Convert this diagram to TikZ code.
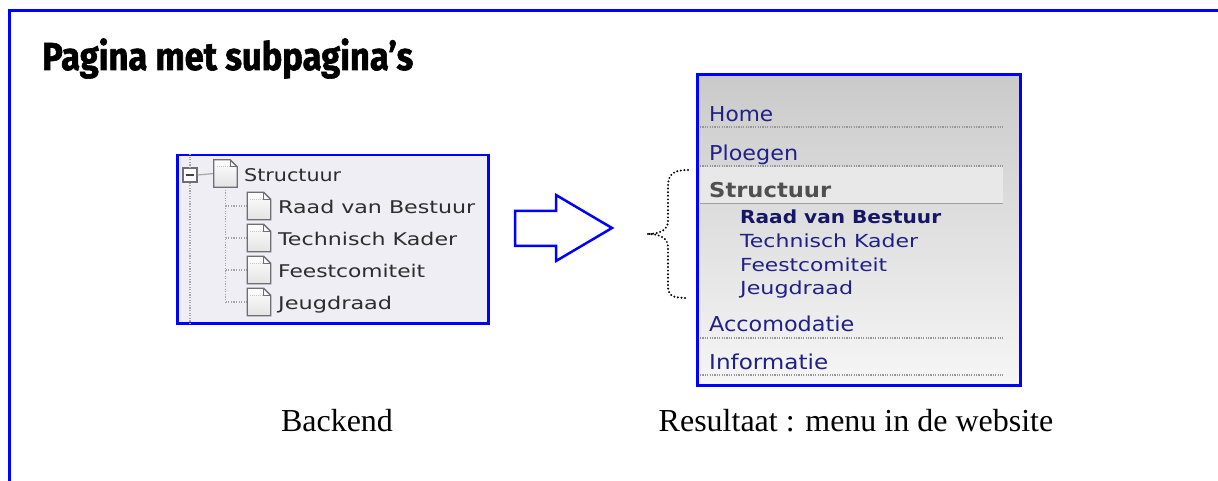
\documentclass[tikz,border=0pt]{standalone}
\usepackage{fontspec}
\usepackage{graphicx}
\setmainfont{Liberation Serif}
\newfontfamily\verd{DejaVu Sans}
\newfontfamily\titlef{Fira Sans}[BoldFeatures={FakeBold=1.6}]
\definecolor{frameblue}{RGB}{0,0,255}
\definecolor{treebg}{RGB}{238,238,244}
\definecolor{treefg}{RGB}{45,45,45}
\definecolor{treeline}{RGB}{165,165,170}
\definecolor{iconborder}{RGB}{110,110,115}
\definecolor{menutop}{RGB}{202,202,202}
\definecolor{menubot}{RGB}{246,246,246}
\definecolor{bandcol}{RGB}{232,232,232}
\definecolor{menublue}{RGB}{32,32,135}
\definecolor{menunavy}{RGB}{22,22,100}
\definecolor{menugray}{RGB}{80,80,80}
\definecolor{sepcol}{RGB}{150,150,150}
\tikzset{
  treetext/.style={anchor=base west, inner sep=0pt, text=treefg,
    font=\verd\fontsize{17.5bp}{20bp}\selectfont},
  menutext/.style={anchor=base west, inner sep=0pt, text=menublue,
    font=\verd\fontsize{20.5bp}{24bp}\selectfont},
  subtext/.style={anchor=base west, inner sep=0pt, text=menublue,
    font=\verd\fontsize{18bp}{22bp}\selectfont},
  treedot/.style={draw=treeline, line width=1.3bp, dash pattern=on 1.3bp off 1.3bp},
  sepline/.style={draw=sepcol, line width=1.2bp, dash pattern=on 1.2bp off 1.2bp},
  iconbox/.style={minimum width=23bp, minimum height=27bp, inner sep=0pt},
  labeltext/.style={anchor=base, inner sep=0pt, text=black,
    font=\fontsize{32bp}{36bp}\selectfont},
}
\newcommand{\docicon}[1]{%
  \shadedraw[top color=white, bottom color=gray!22, draw=iconborder, line width=1.3bp]
    (#1.north west) -- ([xshift=-7bp]#1.north east) -- ([yshift=-7bp]#1.north east)
    -- (#1.south east) -- (#1.south west) -- cycle;
  \draw[iconborder, line width=1bp] ([xshift=-7bp]#1.north east) -- ([xshift=-7bp,yshift=-7bp]#1.north east)
    -- ([yshift=-7bp]#1.north east);
  \draw[gray!45, line width=0.8bp, dash pattern=on 1bp off 1bp]
    ([xshift=3bp,yshift=-7bp]#1.north west) -- ([xshift=-8bp,yshift=-7bp]#1.north east);
}
\begin{document}
\begin{tikzpicture}[x=1bp,y=-1bp]
\useasboundingbox (0,0) rectangle (1218,481);
\fill[white] (0,0) rectangle (1218,481);
% outer frame
\draw[frameblue, line width=3bp] (9,481) -- (9,11) -- (1218,11);
% title
\node[anchor=base west, inner sep=0pt] (title) at (42,70)
  {\titlef\bfseries\fontsize{39bp}{44bp}\selectfont\resizebox{371bp}{\height}{Pagina met subpagina’s}};

% ---------- backend tree ----------
\node[draw=frameblue, line width=2.5bp, fill=treebg, minimum width=311bp,
  minimum height=168bp, inner sep=0pt, anchor=north west] (tree) at (176,154) {};
\node[draw=iconborder, fill=white, line width=1.2bp, minimum size=14bp, inner sep=0pt] (minus) at (190,175) {};
\draw[black!75, line width=1.6bp] ([xshift=-4bp]minus.center) -- ([xshift=4bp]minus.center);
\draw[treedot] (minus.north |- tree.north) -- (minus.north);
\draw[treedot] (minus.south) -- (minus.south |- tree.south);

\node[iconbox] (iS) at (225.5,173.5) {};
\node[iconbox] (iR) at (259,206) {};
\node[iconbox] (iT) at (259,238) {};
\node[iconbox] (iF) at (259,270) {};
\node[iconbox] (iJ) at (259,302) {};
\draw[treeline, line width=1.2bp] (minus.east) -- (iS.west);
\draw[treedot] (iS.south) -- (iS.south |- iJ.west);
\foreach \c in {iR,iT,iF,iJ}{\draw[treedot] (iS.south |- \c.west) -- (\c.west);}
\docicon{iS}\docicon{iR}\docicon{iT}\docicon{iF}\docicon{iJ}

\node[treetext] (tS) at (244,182) {\resizebox{97bp}{\height}{Structuur}};
\node[treetext] (tR) at (278,214) {\resizebox{197bp}{\height}{Raad van Bestuur}};
\node[treetext] (tT) at (278,246) {\resizebox{179bp}{\height}{Technisch Kader}};
\node[treetext] (tF) at (278,278) {\resizebox{147bp}{\height}{Feestcomiteit}};
\node[treetext] (tJ) at (278,310) {\resizebox{114bp}{\height}{Jeugdraad}};

% ---------- arrow ----------
\draw[frameblue, line width=2.5bp, fill=white, line join=miter]
  (515,211) -- (556,211) -- (556,195) -- (612,228) -- (556,261) -- (556,246) -- (515,246) -- cycle;

% ---------- menu ----------
\node[top color=menutop, bottom color=menubot, minimum width=323bp, minimum height=310bp,
  inner sep=0pt, anchor=north west] (menu) at (697,75) {};
\fill[bandcol] (700,167) rectangle (1003,203);
\draw[gray!75, line width=1.5bp] (700,203.5) -- (1003,203.5);
\foreach \yy in {127,166,338,375}{\draw[sepline] (700,\yy) -- (1003,\yy);}
\draw[frameblue, line width=3bp] (menu.north west) rectangle (menu.south east);

\node[menutext] (mH) at (709,122) {\resizebox{64bp}{\height}{Home}};
\node[menutext] (mP) at (709,161) {\resizebox{89bp}{\height}{Ploegen}};
\node[menutext, text=menugray, font=\verd\bfseries\fontsize{20.5bp}{24bp}\selectfont] (mS) at (709,198)
  {\resizebox{122bp}{\height}{Structuur}};
\node[subtext, text=menunavy, font=\verd\bfseries\fontsize{18bp}{22bp}\selectfont] (mR) at (740,224)
  {\resizebox{201bp}{\height}{Raad van Bestuur}};
\node[subtext] (mT) at (740,248) {\resizebox{178bp}{\height}{Technisch Kader}};
\node[subtext] (mF) at (740,272) {\resizebox{147bp}{\height}{Feestcomiteit}};
\node[subtext] (mJ) at (740,295) {\resizebox{113bp}{\height}{Jeugdraad}};
\node[menutext] (mA) at (709,332) {\resizebox{145bp}{\height}{Accomodatie}};
\node[menutext] (mI) at (709,370) {\resizebox{119bp}{\height}{Informatie}};

% ---------- brace ----------
\coordinate (bTop) at (688,170);
\coordinate (bTip) at (647,234);
\coordinate (bBot) at (688,298);
\draw[black, line width=2.2bp, line cap=round, dash pattern=on 0bp off 3.6bp]
  (bTop) .. controls (672,170) and (668,175) .. (668,187) -- (668,221)
  .. controls (668,230) and (660,234) .. (bTip)
  .. controls (660,234) and (668,238) .. (668,247) -- (668,285)
  .. controls (668,296) and (672,298) .. (bBot);

% ---------- labels ----------
\node[labeltext] (lB) at (337,431) {Backend};
\node[labeltext] (lR) at (856,431) {Resultaat : menu in de website};
\end{tikzpicture}
\end{document}
